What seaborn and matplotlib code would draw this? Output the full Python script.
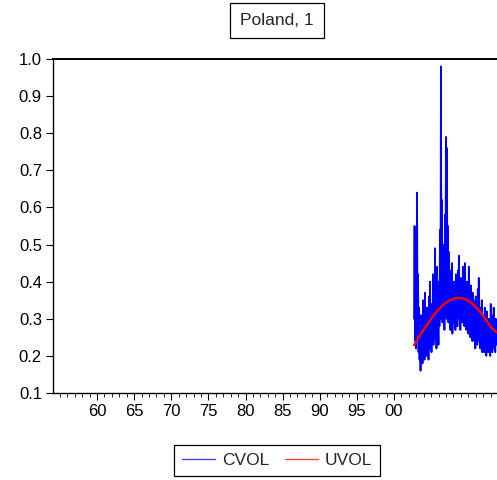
import numpy as np
import pandas as pd
import matplotlib
matplotlib.use("Agg")
import matplotlib.pyplot as plt
import seaborn as sns

# ---- data ----
title_text = "Poland, 1"
series_names = ["CVOL", "UVOL"]
x_tick_years = [1960, 1965, 1970, 1975, 1980, 1985, 1990, 1995, 2000]
x_tick_labels = ["60", "65", "70", "75", "80", "85", "90", "95", "00"]
y_ticks = [0.1, 0.2, 0.3, 0.4, 0.5, 0.6, 0.7, 0.8, 0.9, 1.0]
y_tick_labels = ["0.1", "0.2", "0.3", "0.4", "0.5", "0.6", "0.7", "0.8", "0.9", "1.0"]
obs_start = 2002.7
obs_end = 2013.9

cvol = [
    0.30, 0.55, 0.24, 0.46, 0.22, 0.38, 0.64, 0.26, 0.42, 0.21,
    0.33, 0.19, 0.28, 0.16, 0.31, 0.20, 0.26, 0.18, 0.35, 0.22,
    0.29, 0.19, 0.37, 0.23, 0.30, 0.20, 0.33, 0.24, 0.28, 0.19,
    0.36, 0.22, 0.40, 0.25, 0.31, 0.21, 0.34, 0.24, 0.42, 0.23,
    0.30, 0.25, 0.49, 0.27, 0.36, 0.22, 0.44, 0.26, 0.33, 0.23,
    0.40, 0.28, 0.54, 0.30, 0.98, 0.33, 0.62, 0.29, 0.50, 0.31,
    0.44, 0.27, 0.58, 0.32, 0.79, 0.30, 0.76, 0.35, 0.55, 0.29,
    0.48, 0.30, 0.43, 0.27, 0.38, 0.31, 0.45, 0.26, 0.36, 0.29,
    0.40, 0.30, 0.35, 0.27, 0.42, 0.31, 0.37, 0.28, 0.43, 0.32,
    0.47, 0.30, 0.38, 0.27, 0.41, 0.31, 0.36, 0.29, 0.44, 0.30,
    0.39, 0.28, 0.45, 0.31, 0.37, 0.27, 0.40, 0.29, 0.34, 0.26,
    0.44, 0.28, 0.36, 0.25, 0.39, 0.27, 0.33, 0.24, 0.37, 0.26,
    0.35, 0.24, 0.31, 0.22, 0.36, 0.26, 0.32, 0.23, 0.38, 0.25,
    0.41, 0.24, 0.33, 0.22, 0.30, 0.25, 0.35, 0.21, 0.31, 0.23,
    0.29, 0.21, 0.33, 0.24, 0.28, 0.20, 0.32, 0.22, 0.27, 0.21,
    0.30, 0.23, 0.26, 0.20, 0.34, 0.22, 0.31, 0.21, 0.28, 0.24,
    0.33, 0.22, 0.29, 0.21, 0.30, 0.23, 0.27, 0.25,
]
uvol = [0.229, 0.255, 0.280, 0.303, 0.323, 0.339, 0.350, 0.356,
        0.356, 0.350, 0.338, 0.321, 0.300, 0.276, 0.262]

# ---- build frames ----
df_c = pd.DataFrame({"x": np.linspace(obs_start, obs_end, len(cvol)), "y": cvol})
df_u = pd.DataFrame({"x": np.linspace(obs_start, obs_end, len(uvol)), "y": uvol})

sns.set_style("ticks")
plt.rcParams["font.family"] = ["Liberation Sans", "DejaVu Sans"]

fig = plt.figure(figsize=(4.97, 4.80), dpi=100)
ax = fig.add_axes([53 / 497, 1 - 393 / 480, 1 - 53 / 497, (393 - 59) / 480])

sns.lineplot(data=df_c, x="x", y="y", ax=ax, color="#0000FF", lw=1.3,
             estimator=None, sort=False, label=series_names[0])
sns.lineplot(data=df_u, x="x", y="y", ax=ax, color="#FF0000", lw=1.7,
             estimator=None, sort=False, label=series_names[1])

ax.set_xlim(1954.07, 2013.87)
ax.set_ylim(0.1, 1.0)
ax.set_xticks(x_tick_years)
ax.set_xticklabels(x_tick_labels)
ax.set_xticks(np.arange(1955, 2014, 1), minor=True)
ax.set_yticks(y_ticks)
ax.set_yticklabels(y_tick_labels)
ax.set_xlabel("")
ax.set_ylabel("")

for side in ["left", "top", "bottom"]:
    ax.spines[side].set_visible(True)
    ax.spines[side].set_color("black")
    ax.spines[side].set_linewidth(1.0)
ax.spines["top"].set_linewidth(1.4)
ax.spines["right"].set_visible(False)

ax.tick_params(axis="both", which="major", direction="out", length=5, width=0.8,
               colors="black", labelsize=12, pad=3)
ax.tick_params(axis="x", which="minor", direction="out", length=3, width=0.6, colors="black")
ax.tick_params(axis="y", which="minor", length=0)

# title box
fig.text(277 / 497, 1 - 20.5 / 480, title_text, ha="center", va="center", fontsize=12.5,
         bbox=dict(boxstyle="square,pad=0.6", facecolor="white", edgecolor="black", linewidth=0.9))

# legend
handles, labels = ax.get_legend_handles_labels()
if ax.legend_:
    ax.legend_.remove()
leg = fig.legend(handles, labels, loc="center", bbox_to_anchor=(277 / 497, 1 - 460.5 / 480),
                 ncol=2, frameon=True, fancybox=False, edgecolor="black", framealpha=1,
                 fontsize=12.5, handlelength=1.9, columnspacing=0.9, handletextpad=0.4,
                 borderpad=0.45)
leg.get_frame().set_linewidth(0.9)
for line in leg.get_lines():
    line.set_linewidth(1.0)
    line.set_alpha(0.75)

fig.savefig("out.png", dpi=100)
